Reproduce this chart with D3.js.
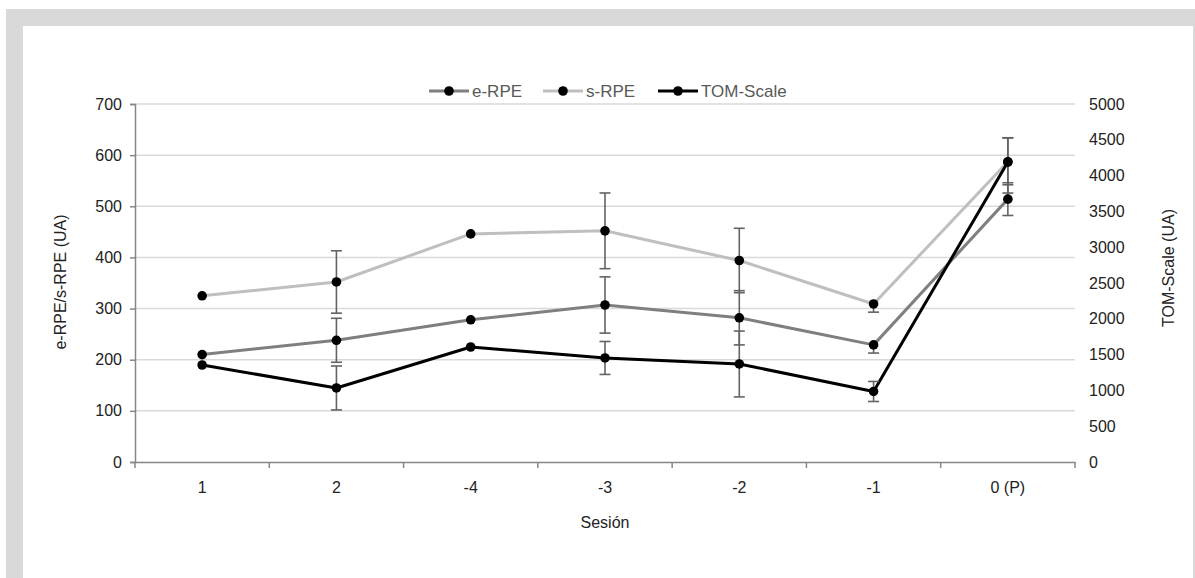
<!DOCTYPE html>
<html><head><meta charset="utf-8">
<script src="https://cdn.jsdelivr.net/npm/d3@7"></script>
<style>body{margin:0;background:#fff}svg{display:block}</style>
</head><body><svg id="c" width="1195" height="578"></svg>
<script>
const categories = ["1", "2", "-4", "-3", "-2", "-1", "0 (P)"];
const eRPE = [210, 238, 278, 307, 282, 229, 514];
const sRPE = [325, 352, 446, 452, 394, 309, 587];
const tom  = [1355, 1034, 1606, 1453, 1369, 985, 4190];
const eRPEerrUp   = [0, 43, 0, 55, 53, 0, 32];
const eRPEerrDown = [0, 43, 0, 55, 53, 16, 32];
const sRPEerrUp   = [0, 61, 0, 74, 63, 0, 47];
const sRPEerrDown = [0, 61, 0, 74, 63, 16, 45];
const tomErrUp    = [0, 307, 0, 230, 460, 140, 335];
const tomErrDown  = [0, 307, 0, 230, 460, 140, 433];
const leftTicks = [0, 100, 200, 300, 400, 500, 600, 700];
const rightTicks = [0, 500, 1000, 1500, 2000, 2500, 3000, 3500, 4000, 4500, 5000];

const font = "'Liberation Sans', Arial, Helvetica, sans-serif";
const svg = d3.select("#c");

// frame
svg.append("rect").attr("x", 6).attr("y", 9).attr("width", 1189).attr("height", 569).attr("fill", "#d9d9d9");
svg.append("rect").attr("x", 23).attr("y", 26).attr("width", 1170).attr("height", 552).attr("fill", "#fff");

const x = d3.scaleBand().domain(categories).range([135, 1075]);
const yL = d3.scaleLinear().domain([0, 700]).range([462, 104]);
const yR = d3.scaleLinear().domain([0, 5000]).range([462, 104]);
const cx = d => x(d) + x.bandwidth() / 2;

// gridlines
svg.append("g").selectAll("line").data(leftTicks.slice(1)).join("line")
  .attr("x1", 135).attr("x2", 1075).attr("y1", d => yL(d)).attr("y2", d => yL(d))
  .attr("stroke", "#d9d9d9").attr("stroke-width", 1.5);

// left axis
const gL = svg.append("g").attr("transform", "translate(135,0)")
  .call(d3.axisLeft(yL).tickValues(leftTicks).tickSize(5).tickPadding(8));
gL.select(".domain").attr("stroke", "#868686").attr("stroke-width", 1.5);
gL.selectAll(".tick line").attr("stroke", "#868686").attr("stroke-width", 1.5);
gL.selectAll("text").attr("font-family", font).attr("font-size", 16).attr("fill", "#222");

// right axis (labels only)
const gR = svg.append("g").attr("transform", "translate(1075,0)")
  .call(d3.axisRight(yR).tickValues(rightTicks).tickFormat(d3.format("d")).tickSize(0).tickPadding(14));
gR.select(".domain").remove();
gR.selectAll("text").attr("font-family", font).attr("font-size", 16).attr("fill", "#222");

// x axis
const gX = svg.append("g").attr("transform", "translate(0,462)")
  .call(d3.axisBottom(x).tickSize(0).tickPadding(20));
gX.select(".domain").attr("stroke", "#868686").attr("stroke-width", 1.5);
gX.selectAll("text").attr("font-family", font).attr("font-size", 16).attr("fill", "#222");
const bounds = categories.map(c => x(c)).concat([x(categories[categories.length - 1]) + x.bandwidth()]);
svg.append("g").selectAll("line").data(bounds).join("line")
  .attr("x1", d => d).attr("x2", d => d).attr("y1", 462).attr("y2", 468)
  .attr("stroke", "#868686").attr("stroke-width", 1.5);

// axis titles
svg.append("text").attr("x", 605).attr("y", 528).attr("text-anchor", "middle")
  .attr("font-family", font).attr("font-size", 16).attr("fill", "#222").text("Sesión");
svg.append("text").attr("transform", "translate(66,282) rotate(-90)").attr("text-anchor", "middle")
  .attr("font-family", font).attr("font-size", 16).attr("fill", "#222").text("e-RPE/s-RPE (UA)");
svg.append("text").attr("transform", "translate(1174,268) rotate(-90)").attr("text-anchor", "middle")
  .attr("font-family", font).attr("font-size", 16).attr("fill", "#222").text("TOM-Scale (UA)");

const series = [
  { name: "e-RPE", vals: eRPE, up: eRPEerrUp, dn: eRPEerrDown, y: yL, color: "#7f7f7f" },
  { name: "s-RPE", vals: sRPE, up: sRPEerrUp, dn: sRPEerrDown, y: yL, color: "#bfbfbf" },
  { name: "TOM-Scale", vals: tom, up: tomErrUp, dn: tomErrDown, y: yR, color: "#000" }
];

series.forEach(s => {
  const line = d3.line().x((d, i) => cx(categories[i])).y(d => s.y(d));
  svg.append("path").datum(s.vals).attr("d", line).attr("fill", "none")
    .attr("stroke", s.color).attr("stroke-width", 3).attr("stroke-linejoin", "round");
});

series.forEach(s => {
  const g = svg.append("g").attr("stroke", "#636363").attr("stroke-width", 1.6);
  s.vals.forEach((v, i) => {
    if (!s.up[i] && !s.dn[i]) return;
    const X = cx(categories[i]);
    const y1 = s.y(v + s.up[i]), y2 = s.y(v - s.dn[i]);
    g.append("line").attr("x1", X).attr("x2", X).attr("y1", y1).attr("y2", y2);
    if (s.up[i]) g.append("line").attr("x1", X - 5.5).attr("x2", X + 5.5).attr("y1", y1).attr("y2", y1);
    if (s.dn[i]) g.append("line").attr("x1", X - 5.5).attr("x2", X + 5.5).attr("y1", y2).attr("y2", y2);
  });
});

series.forEach(s => {
  svg.append("g").selectAll("circle").data(s.vals).join("circle")
    .attr("cx", (d, i) => cx(categories[i])).attr("cy", d => s.y(d)).attr("r", 4.8).attr("fill", "#000");
});

// legend
const legX = [429, 543, 658];
series.forEach((s, i) => {
  const lx = legX[i];
  svg.append("line").attr("x1", lx).attr("x2", lx + 40).attr("y1", 91).attr("y2", 91)
    .attr("stroke", s.color).attr("stroke-width", 3);
  svg.append("circle").attr("cx", lx + 20).attr("cy", 91).attr("r", 4.8).attr("fill", "#000");
  svg.append("text").attr("x", lx + 43).attr("y", 97).attr("font-family", font).attr("font-size", 17)
    .attr("fill", "#595959").text(s.name);
});
</script></body></html>
